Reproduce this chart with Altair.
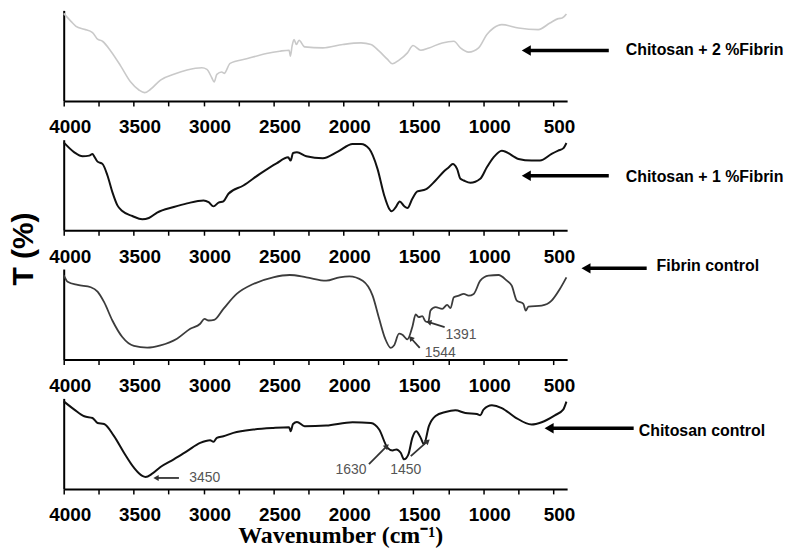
import altair as alt
import pandas as pd

# ---------------- spectra (wavenumber, transmittance in arbitrary units) ----------------
wn1 = [4000, 3948, 3912, 3853, 3794, 3758, 3723, 3663, 3592, 3521, 3462, 3422, 3379, 3308, 3213, 3118,
       3012, 2976, 2941, 2924, 2905, 2870, 2853, 2810, 2692, 2550, 2455, 2388, 2379, 2367, 2353, 2336,
       2317, 2277, 2147, 2004, 1874, 1803, 1744, 1684, 1649, 1602, 1542, 1502, 1447, 1388, 1293, 1210,
       1163, 1104, 1033, 974, 926, 867, 748, 606, 523, 464, 436, 405]
t1 = [88, 80, 75, 72, 68.7, 62, 60, 50, 35, 19, 11, 8.3, 11.7, 21, 26.7, 31,
      33.3, 31.7, 23.3, 19, 26.7, 29, 27.7, 37.7, 42.3, 47.7, 50, 51, 45, 55, 61.7, 56.7,
      61, 54.3, 53.3, 56.7, 58.3, 56.7, 50, 41.7, 37.3, 41, 48.3, 55.7, 51, 53.3, 58.3, 60,
      53.3, 49, 53.3, 66.7, 73.3, 76.7, 73.3, 71.7, 78.3, 82.7, 83.3, 87.3]

wn2 = [4000, 3924, 3865, 3817, 3794, 3782, 3758, 3723, 3687, 3652, 3616, 3581, 3509, 3438, 3391, 3332,
       3213, 3118, 3000, 2964, 2929, 2893, 2858, 2822, 2715, 2597, 2478, 2395, 2377, 2360, 2332, 2265,
       2147, 2040, 1934, 1874, 1815, 1756, 1708, 1673, 1654, 1625, 1597, 1566, 1542, 1507, 1471, 1412,
       1341, 1282, 1246, 1218, 1187, 1163, 1139, 1092, 1021, 974, 926, 867, 748, 654, 594, 511, 464, 428, 405]
t2 = [88.3, 78.3, 74.3, 75, 76.7, 74.3, 69, 66.7, 55, 38.3, 25, 19.3, 14.3, 11, 12.3, 17.7,
      23.3, 27, 30, 28.3, 24, 27.7, 29, 36.7, 45, 56.7, 67.3, 73.3, 70, 77.7, 78.3, 74.3,
      72.3, 79, 86.7, 86.7, 81.7, 61.7, 35, 21.7, 19, 23.3, 29, 24.3, 22.3, 31.7, 39, 41,
      50, 59, 63.3, 66.7, 61.7, 51.7, 50, 47.7, 51.7, 63.3, 73.3, 80, 71.7, 70, 70, 76.7, 80, 82.3, 87.7]

wn3 = [4000, 3972, 3900, 3806, 3758, 3711, 3652, 3581, 3498, 3403, 3308, 3190, 3095, 3024, 2993, 2964,
       2924, 2858, 2763, 2644, 2502, 2384, 2265, 2123, 2028, 1957, 1862, 1791, 1744, 1701, 1661, 1637,
       1602, 1578, 1542, 1507, 1483, 1460, 1436, 1412, 1393, 1377, 1341, 1293, 1258, 1234, 1210, 1175,
       1139, 1104, 1068, 1021, 962, 891, 831, 796, 760, 713, 696, 677, 582, 511, 452, 405]
t3 = [85, 78.3, 75, 72.7, 68.3, 57.7, 39.3, 22.7, 13.7, 12, 14.3, 21, 31, 36, 41, 39.3,
      40, 51, 66, 76, 82.7, 85, 82.7, 79.3, 82.7, 83.7, 79.3, 64.3, 41, 21, 11.7, 14.3,
      26, 25, 20.3, 32.7, 45.3, 42.7, 43.7, 38.3, 37.7, 49.3, 52.7, 51, 55, 51.7, 62.7, 64.3,
      66, 64.3, 66, 79.3, 84.3, 85, 79.3, 74.3, 59.3, 56, 49.3, 53.3, 54.3, 59.3, 71, 82.7]

wn4 = [4000, 3924, 3853, 3794, 3758, 3711, 3640, 3569, 3498, 3438, 3415, 3367, 3308, 3213, 3118, 3024,
       2953, 2929, 2905, 2858, 2787, 2644, 2502, 2388, 2377, 2360, 2332, 2277, 2123, 1934, 1803, 1744,
       1684, 1649, 1621, 1590, 1566, 1535, 1507, 1479, 1447, 1424, 1388, 1341, 1270, 1199, 1128, 1045,
       1021, 998, 938, 867, 772, 654, 582, 488, 428, 405]
t4 = [88, 79.7, 73, 71.3, 66.3, 65.3, 53, 36.3, 21.3, 13, 12, 15.3, 22, 29.7, 38, 46.3,
      49, 47.3, 51.3, 53, 56.3, 59.7, 61.3, 62, 58, 65.3, 67.3, 63, 63.7, 67, 66.3, 59.7,
      41.3, 38.7, 39.7, 36.3, 29.7, 34.7, 51.3, 58, 51.3, 45, 63.3, 73.3, 77.3, 79, 76.3, 75.3,
      74, 79.7, 84, 81.3, 72, 64.7, 67, 74, 79.7, 87.7]

# ---------------- sample labels (arrow head, arrow tail, label start, heights) ----------------
sample_names = ["Chitosan + 2 %Fibrin", "Chitosan + 1 %Fibrin", "Fibrin control", "Chitosan control"]
sample_head_x = [692, 692, 265, 529]
sample_tail_x = [102, 102, -169, -76]
sample_arrow_y = [50.7, 54.7, 91.7, 61]
sample_text_x = [-19, -19, -240, -112]
sample_text_y = [50.7, 54, 94, 58]

# ---------------- peak annotations ----------------
peak_panel = [3, 3, 3, 2, 2]
peak_text = ["3450", "1630", "1450", "1544", "1391"]
peak_text_x = [2991, 1945, 1554, 1308, 1159]
peak_text_y = [11, 19, 19, 6.7, 24.7]
peak_tail_x = [3176, 1817, 1518, 1454, 1276]
peak_tail_y = [11, 25, 33, 11.7, 32.7]
peak_head_x = [3340, 1689, 1397, 1518, 1390]
peak_head_y = [11, 43, 48, 21.7, 37.7]
peak_head_angle = [270, 45, 49, 318, 287]

tick_vals = list(range(4000, 499, -250))
x_scale = alt.Scale(domain=[400, 4000], reverse=True, nice=False, zero=False)
y_scale = alt.Scale(domain=[0, 91], nice=False, zero=False)

W, H = 506, 91
FONT = "Liberation Sans"


def x_axis(bottom=False):
    kw = dict(values=tick_vals,
              labelExpr="datum.value % 500 === 0 ? '' + datum.value : ''",
              tickSize=5, tickWidth=1.5, tickColor="black",
              domainColor="black", domainWidth=2,
              labelFont=FONT, labelFontSize=19, labelFontWeight="bold", labelColor="black",
              labelPadding=12, labelOffset=6, labelFlush=False, labelOverlap=False, grid=False)
    if bottom:
        kw.update(titleFont="Liberation Serif", titleFontSize=24, titleFontWeight="bold",
                  titleColor="black", titleX=278, titleY=54, titleBaseline="alphabetic",
                  titleAlign="center")
    return alt.Axis(**kw)


y_axis = alt.Axis(ticks=False, labels=False, grid=False, domainColor="black", domainWidth=2)


def panel(i, wn, t, color, sw):
    bottom = i == 3
    xt = "Wavenumber (cm⁻¹)" if bottom else None
    X = lambda f: alt.X(f, type="quantitative", scale=x_scale, axis=x_axis(bottom), title=xt)
    Y = lambda f: alt.Y(f, type="quantitative", scale=y_scale, axis=y_axis, title=None)

    spec = pd.DataFrame({"wn": wn, "t": t})
    line = alt.Chart(spec).mark_line(color=color, strokeWidth=sw, interpolate="monotone").encode(
        x=X("wn"), y=Y("t"))

    lab = pd.DataFrame({"hx": [sample_head_x[i]], "tx": [sample_tail_x[i]], "ay": [sample_arrow_y[i]],
                        "lx": [sample_text_x[i]], "ly": [sample_text_y[i]], "name": [sample_names[i]]})
    base = alt.Chart(lab)
    shaft = base.mark_rule(color="black", strokeWidth=3.5, clip=False).encode(
        x=X("hx"), x2="tx", y=Y("ay"))
    head = base.mark_point(shape="triangle-left", filled=True, color="black", size=110, opacity=1,
                           clip=False).encode(x=X("hx"), y=Y("ay"))
    text = base.mark_text(align="left", baseline="middle", font=FONT, fontSize=16, fontWeight="bold",
                          color="black", clip=False).encode(x=X("lx"), y=Y("ly"), text="name:N")
    layers = [line, shaft, head, text]

    pk = pd.DataFrame({"panel": peak_panel, "txt": peak_text, "px": peak_text_x, "py": peak_text_y,
                       "tx": peak_tail_x, "ty": peak_tail_y, "hx": peak_head_x, "hy": peak_head_y,
                       "ang": peak_head_angle})
    pk = pk[pk["panel"] == i]
    if len(pk):
        pb = alt.Chart(pk)
        layers += [
            pb.mark_rule(color="#333333", strokeWidth=1.8).encode(x=X("tx"), y=Y("ty"), x2="hx", y2="hy"),
            pb.mark_point(shape="triangle-up", filled=True, color="#333333", size=38, opacity=1).encode(
                x=X("hx"), y=Y("hy"), angle=alt.Angle("ang:Q", scale=None)),
            pb.mark_text(align="center", baseline="middle", font=FONT, fontSize=14, color="#555555").encode(
                x=X("px"), y=Y("py"), text="txt:N"),
        ]
    return alt.layer(*layers).properties(width=W, height=H)


chart = alt.vconcat(
    panel(0, wn1, t1, "#c9c9c9", 1.6),
    panel(1, wn2, t2, "#111111", 2.0),
    panel(2, wn3, t3, "#3c3c3c", 1.8),
    panel(3, wn4, t4, "#111111", 2.0),
    spacing=39, bounds="flush",
    title=alt.TitleParams("T (%)", orient="left", anchor="middle", font=FONT, fontSize=30,
                          fontWeight="bold", color="black", offset=10, dx=30),
).properties(padding=0).configure_view(strokeWidth=0)

chart.save("out.html", embed_options={"renderer": "svg", "actions": False})
